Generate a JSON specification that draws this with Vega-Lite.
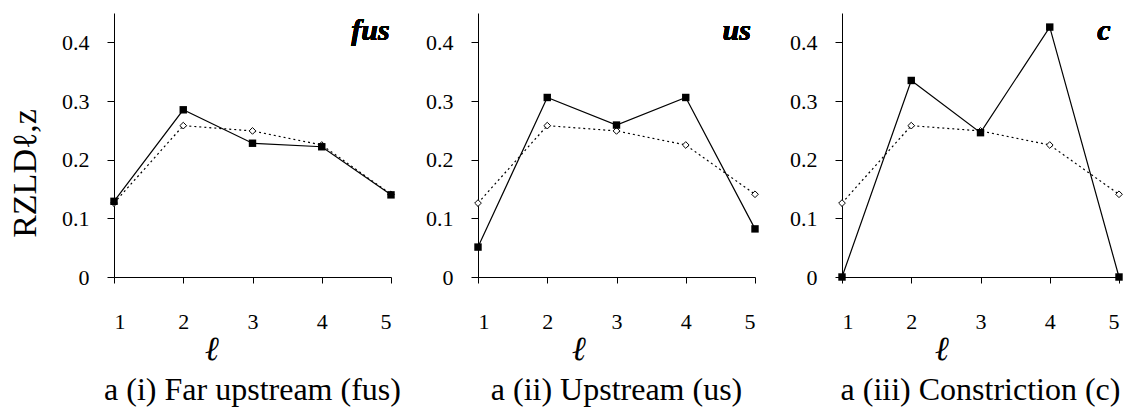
{
  "$schema": "https://vega.github.io/schema/vega-lite/v6.json",
  "background": "white",
  "padding": {"left": 8, "top": 13, "right": 5, "bottom": 5},
  "bounds": "flush",
  "spacing": 87,
  "config": {
    "view": {"stroke": null},
    "font": "Liberation Serif, serif",
    "axis": {"grid": false, "domainColor": "#000", "tickColor": "#000", "labelColor": "#000", "titleColor": "#000", "labelFont": "Liberation Serif, serif", "labelFontSize": 22, "labelFontWeight": "normal", "domainWidth": 1, "tickWidth": 1},
    "title": {"font": "Liberation Serif, serif", "fontSize": 32, "fontWeight": "normal", "color": "#000", "orient": "bottom", "anchor": "middle"}
  },
  "datasets": {
    "rzld": [
      {"panel": "fus", "e": 1, "series": "measured", "value": 0.129},
      {"panel": "fus", "e": 2, "series": "measured", "value": 0.285},
      {"panel": "fus", "e": 3, "series": "measured", "value": 0.228},
      {"panel": "fus", "e": 4, "series": "measured", "value": 0.222},
      {"panel": "fus", "e": 5, "series": "measured", "value": 0.140},
      {"panel": "fus", "e": 1, "series": "reference", "value": 0.126},
      {"panel": "fus", "e": 2, "series": "reference", "value": 0.258},
      {"panel": "fus", "e": 3, "series": "reference", "value": 0.249},
      {"panel": "fus", "e": 4, "series": "reference", "value": 0.225},
      {"panel": "fus", "e": 5, "series": "reference", "value": 0.141},
      {"panel": "us", "e": 1, "series": "measured", "value": 0.051},
      {"panel": "us", "e": 2, "series": "measured", "value": 0.306},
      {"panel": "us", "e": 3, "series": "measured", "value": 0.259},
      {"panel": "us", "e": 4, "series": "measured", "value": 0.306},
      {"panel": "us", "e": 5, "series": "measured", "value": 0.082},
      {"panel": "us", "e": 1, "series": "reference", "value": 0.126},
      {"panel": "us", "e": 2, "series": "reference", "value": 0.258},
      {"panel": "us", "e": 3, "series": "reference", "value": 0.249},
      {"panel": "us", "e": 4, "series": "reference", "value": 0.225},
      {"panel": "us", "e": 5, "series": "reference", "value": 0.141},
      {"panel": "c", "e": 1, "series": "measured", "value": 0.0},
      {"panel": "c", "e": 2, "series": "measured", "value": 0.335},
      {"panel": "c", "e": 3, "series": "measured", "value": 0.246},
      {"panel": "c", "e": 4, "series": "measured", "value": 0.426},
      {"panel": "c", "e": 5, "series": "measured", "value": 0.0},
      {"panel": "c", "e": 1, "series": "reference", "value": 0.126},
      {"panel": "c", "e": 2, "series": "reference", "value": 0.258},
      {"panel": "c", "e": 3, "series": "reference", "value": 0.249},
      {"panel": "c", "e": 4, "series": "reference", "value": 0.225},
      {"panel": "c", "e": 5, "series": "reference", "value": 0.141}
    ]
  },
  "hconcat": [
    {
      "width": 277, "height": 264,
      "title": {"text": "a (i) Far upstream (fus)", "offset": 9},
      "data": {"name": "rzld"},
      "transform": [{"filter": "datum.panel === 'fus'"}],
      "encoding": {
        "x": {"field": "e", "type": "quantitative", "scale": {"domain": [1, 5], "nice": false, "zero": false},
          "axis": {"values": [1, 2, 3, 4, 5], "format": "d", "tickSize": 6, "labelPadding": 28, "labelFont": "Liberation Serif, serif", "labelFontSize": 22, "title": "ℓ", "titleFont": "Liberation Serif, serif", "titleFontSize": 34, "titleFontStyle": "italic", "titleFontWeight": "bold", "titleX": 98, "titleY": 72, "titleAlign": "center", "titleBaseline": "middle"}},
        "y": {"field": "value", "type": "quantitative", "scale": {"domain": [0, 0.45], "nice": false},
          "axis": {"values": [0, 0.1, 0.2, 0.3, 0.4], "format": ".1~f", "tickSize": 7, "labelPadding": 18, "labelFont": "Liberation Serif, serif", "labelFontSize": 22, "title": "RZLDℓ,z", "titleFont": "Liberation Serif, serif", "titleFontSize": 34, "titleFontWeight": "normal", "titlePadding": 19, "titleY": 160}}
      },
      "layer": [
        {"transform": [{"filter": "datum.series === 'reference'"}], "mark": {"type": "line", "color": "#000", "strokeWidth": 1.2, "strokeDash": [2, 3]}},
        {"transform": [{"filter": "datum.series === 'reference'"}], "mark": {"type": "point", "shape": "diamond", "filled": true, "fill": "white", "stroke": "#000", "strokeWidth": 1, "size": 45, "opacity": 1}},
        {"transform": [{"filter": "datum.series === 'measured'"}], "mark": {"type": "line", "color": "#000", "strokeWidth": 1.2}},
        {"transform": [{"filter": "datum.series === 'measured'"}], "mark": {"type": "point", "shape": "square", "filled": true, "color": "#000", "size": 55, "opacity": 1}},
        {"mark": {"type": "text", "text": "fus", "font": "Liberation Serif, serif", "fontSize": 30, "fontStyle": "italic", "fontWeight": "bold", "align": "right", "baseline": "middle", "color": "#000"},
          "encoding": {"x": {"datum": 4.98}, "y": {"datum": 0.42}}}
      ]
    },
    {
      "width": 277, "height": 264,
      "title": {"text": "a (ii) Upstream (us)", "offset": 9},
      "data": {"name": "rzld"},
      "transform": [{"filter": "datum.panel === 'us'"}],
      "encoding": {
        "x": {"field": "e", "type": "quantitative", "scale": {"domain": [1, 5], "nice": false, "zero": false},
          "axis": {"values": [1, 2, 3, 4, 5], "format": "d", "tickSize": 6, "labelPadding": 28, "labelFont": "Liberation Serif, serif", "labelFontSize": 22, "title": "ℓ", "titleFont": "Liberation Serif, serif", "titleFontSize": 34, "titleFontStyle": "italic", "titleFontWeight": "bold", "titleX": 101, "titleY": 72, "titleAlign": "center", "titleBaseline": "middle"}},
        "y": {"field": "value", "type": "quantitative", "scale": {"domain": [0, 0.45], "nice": false},
          "axis": {"values": [0, 0.1, 0.2, 0.3, 0.4], "format": ".1~f", "tickSize": 7, "labelPadding": 18, "labelFont": "Liberation Serif, serif", "labelFontSize": 22, "title": null}}
      },
      "layer": [
        {"transform": [{"filter": "datum.series === 'reference'"}], "mark": {"type": "line", "color": "#000", "strokeWidth": 1.2, "strokeDash": [2, 3]}},
        {"transform": [{"filter": "datum.series === 'reference'"}], "mark": {"type": "point", "shape": "diamond", "filled": true, "fill": "white", "stroke": "#000", "strokeWidth": 1, "size": 45, "opacity": 1}},
        {"transform": [{"filter": "datum.series === 'measured'"}], "mark": {"type": "line", "color": "#000", "strokeWidth": 1.2}},
        {"transform": [{"filter": "datum.series === 'measured'"}], "mark": {"type": "point", "shape": "square", "filled": true, "color": "#000", "size": 55, "opacity": 1}},
        {"mark": {"type": "text", "text": "us", "font": "Liberation Serif, serif", "fontSize": 30, "fontStyle": "italic", "fontWeight": "bold", "align": "right", "baseline": "middle", "color": "#000"},
          "encoding": {"x": {"datum": 4.94}, "y": {"datum": 0.42}}}
      ]
    },
    {
      "width": 277, "height": 264,
      "title": {"text": "a (iii) Constriction (c)", "offset": 9},
      "data": {"name": "rzld"},
      "transform": [{"filter": "datum.panel === 'c'"}],
      "encoding": {
        "x": {"field": "e", "type": "quantitative", "scale": {"domain": [1, 5], "nice": false, "zero": false},
          "axis": {"values": [1, 2, 3, 4, 5], "format": "d", "tickSize": 6, "labelPadding": 28, "labelFont": "Liberation Serif, serif", "labelFontSize": 22, "title": "ℓ", "titleFont": "Liberation Serif, serif", "titleFontSize": 34, "titleFontStyle": "italic", "titleFontWeight": "bold", "titleX": 100, "titleY": 72, "titleAlign": "center", "titleBaseline": "middle"}},
        "y": {"field": "value", "type": "quantitative", "scale": {"domain": [0, 0.45], "nice": false},
          "axis": {"values": [0, 0.1, 0.2, 0.3, 0.4], "format": ".1~f", "tickSize": 7, "labelPadding": 18, "labelFont": "Liberation Serif, serif", "labelFontSize": 22, "title": null}}
      },
      "layer": [
        {"transform": [{"filter": "datum.series === 'reference'"}], "mark": {"type": "line", "color": "#000", "strokeWidth": 1.2, "strokeDash": [2, 3]}},
        {"transform": [{"filter": "datum.series === 'reference'"}], "mark": {"type": "point", "shape": "diamond", "filled": true, "fill": "white", "stroke": "#000", "strokeWidth": 1, "size": 45, "opacity": 1}},
        {"transform": [{"filter": "datum.series === 'measured'"}], "mark": {"type": "line", "color": "#000", "strokeWidth": 1.2}},
        {"transform": [{"filter": "datum.series === 'measured'"}], "mark": {"type": "point", "shape": "square", "filled": true, "color": "#000", "size": 55, "opacity": 1}},
        {"mark": {"type": "text", "text": "c", "font": "Liberation Serif, serif", "fontSize": 30, "fontStyle": "italic", "fontWeight": "bold", "align": "right", "baseline": "middle", "color": "#000"},
          "encoding": {"x": {"datum": 4.88}, "y": {"datum": 0.42}}}
      ]
    }
  ]
}
